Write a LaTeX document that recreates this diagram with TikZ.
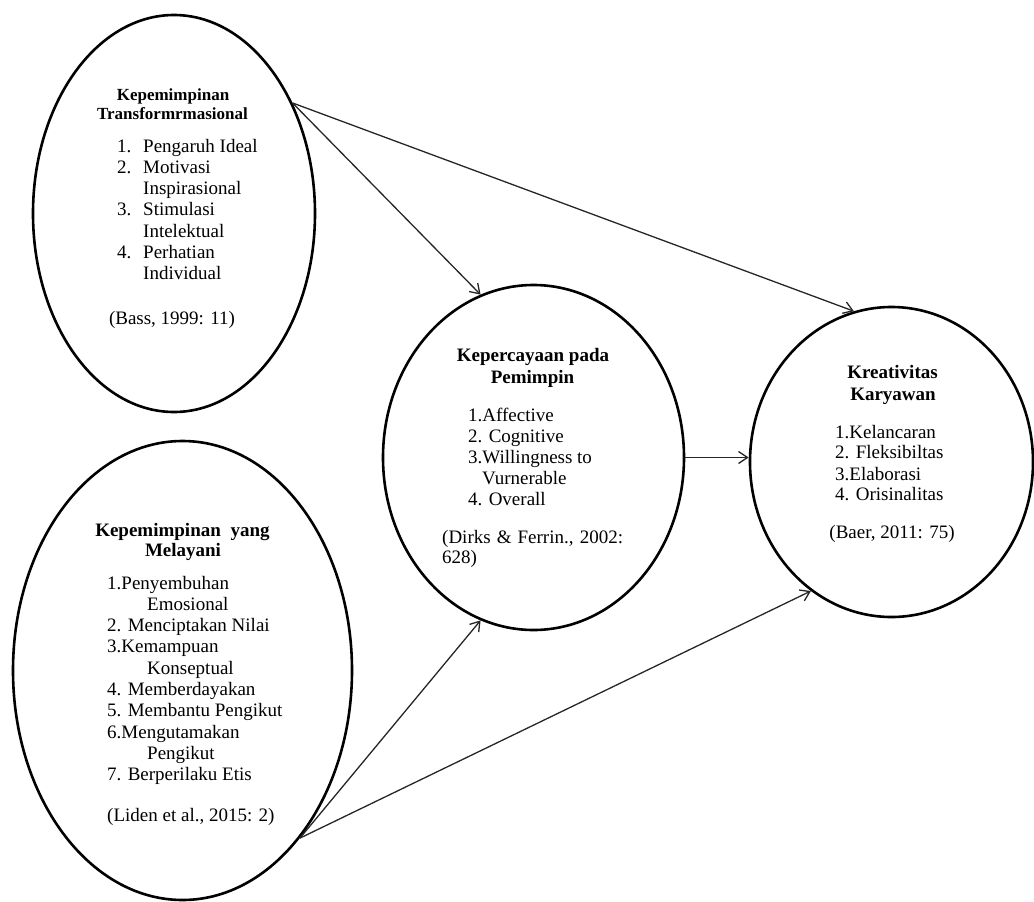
\documentclass[tikz,border=0pt]{standalone}
\usepackage{fontspec}
\setmainfont{Liberation Serif}
\usetikzlibrary{shapes.geometric,arrows.meta}
\tikzset{
  oval/.style={draw=black, line width=2.6pt, ellipse, inner sep=0pt},
  txt/.style={inner sep=0pt, font=\fontsize{19pt}{21pt}\selectfont, text=black},
  ttl/.style={txt, font=\fontsize{19pt}{21pt}\selectfont\bfseries, anchor=base},
  ttlsmall/.style={txt, font=\fontsize{17pt}{19pt}\selectfont\bfseries, anchor=base},
  itm/.style={txt, anchor=base west},
  link/.style={draw=black!85, line width=1.3pt, -{Straight Barb[length=9pt,width=12pt]}}
}
\newcommand{\nm}[1]{\makebox[26pt][l]{#1}}
\begin{document}
\begin{tikzpicture}[x=1pt,y=-1pt]
\useasboundingbox (0,0) rectangle (1034,902);
% ellipses
\node[oval, minimum width=282pt, minimum height=397pt] (e1) at (174,213.5) {};
\node[oval, minimum width=339pt, minimum height=459pt] (e2) at (182.5,670.5) {};
\node[oval, minimum width=301pt, minimum height=345pt] (e3) at (533.5,457.5) {};
\node[oval, minimum width=283pt, minimum height=310pt] (e4) at (891.5,462) {};
% ellipse 1 text
\node[ttlsmall] (t1a) at (173,100) {Kepemimpinan};
\node[ttlsmall] (t1b) at (172.5,119) {Transformrmasional};
\node[itm] (l1a) at (117,152) {\nm{1.}Pengaruh Ideal};
\node[itm] (l1b) at (117,173.3) {\nm{2.}Motivasi};
\node[itm] (l1c) at (143,194.6) {Inspirasional};
\node[itm] (l1d) at (117,215.9) {\nm{3.}Stimulasi};
\node[itm] (l1e) at (143,237.2) {Intelektual};
\node[itm] (l1f) at (117,258.5) {\nm{4.}Perhatian};
\node[itm] (l1g) at (143,279.8) {Individual};
\node[txt, anchor=base] (c1) at (172,324) {(Bass, 1999: 11)};
% ellipse 2 text
\node[ttl] (t2a) at (182.5,536) {Kepemimpinan\hspace{5pt} yang};
\node[ttl] (t2b) at (183,556) {Melayani};
\node[itm] (l2a) at (107,589) {1.Penyembuhan};
\node[itm] (l2b) at (147,610.3) {Emosional};
\node[itm] (l2c) at (107,631.6) {2. Menciptakan Nilai};
\node[itm] (l2d) at (107,652.9) {3.Kemampuan};
\node[itm] (l2e) at (147,674.2) {Konseptual};
\node[itm] (l2f) at (107,695.5) {4. Memberdayakan};
\node[itm] (l2g) at (107,716.8) {5. Membantu Pengikut};
\node[itm] (l2h) at (107,738.1) {6.Mengutamakan};
\node[itm] (l2i) at (147,759.4) {Pengikut};
\node[itm] (l2j) at (107,780.7) {7. Berperilaku Etis};
\node[itm] (c2) at (107,821) {(Liden et al., 2015: 2)};
% ellipse 3 text
\node[ttl] (t3a) at (533,361) {Kepercayaan pada};
\node[ttl] (t3b) at (532.5,383) {Pemimpin};
\node[itm] (l3a) at (468,421) {1.Affective};
\node[itm] (l3b) at (468,442) {2. Cognitive};
\node[itm] (l3c) at (468,463) {3.Willingness to};
\node[itm] (l3d) at (482,484) {Vurnerable};
\node[itm] (l3e) at (468,505) {4. Overall};
\node[itm] (c3a) at (442,543) {\makebox[181pt][s]{(Dirks \& Ferrin., 2002:}};
\node[itm] (c3b) at (442,563) {628)};
% ellipse 4 text
\node[ttl] (t4a) at (892.5,378) {Kreativitas};
\node[ttl] (t4b) at (893,400) {Karyawan};
\node[itm] (l4a) at (835,438) {1.Kelancaran};
\node[itm] (l4b) at (835,458) {2. Fleksibiltas};
\node[itm] (l4c) at (835,480) {3.Elaborasi};
\node[itm] (l4d) at (835,500) {4. Orisinalitas};
\node[txt, anchor=base] (c4) at (892,538) {(Baer, 2011: 75)};
% connectors
\draw[link] (e1.43.8) -- (e3.108.7);
\draw[link] (e1.43.8) -- (e4.104.6);
\draw[link] (e3.east) -- (e4.west |- e3.east);
\draw[link] (e2.305.2) -- (e3.252.5);
\draw[link] (e2.305.2) -- (e4.238.3);
\end{tikzpicture}
\end{document}
